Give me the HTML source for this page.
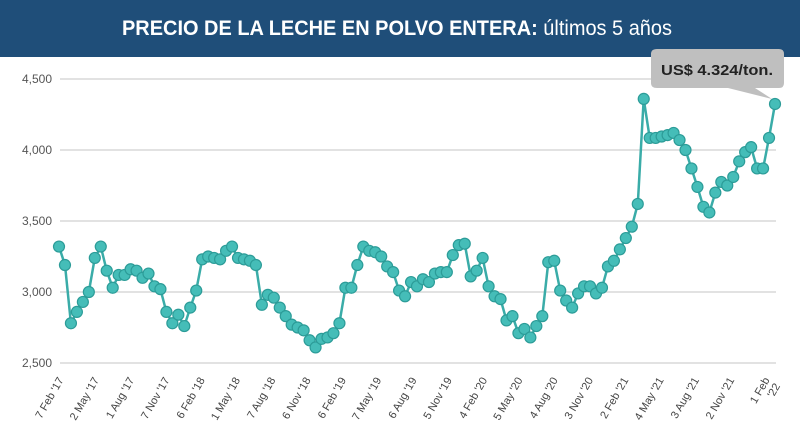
<!DOCTYPE html>
<html><head><meta charset="utf-8"><style>
html,body{margin:0;padding:0;background:#fff;}
svg{display:block;font-family:"Liberation Sans",sans-serif;}
</style></head><body>
<svg id="chart" width="800" height="440" viewBox="0 0 800 440">
<rect x="0" y="0" width="800" height="57" fill="#1f4e79"/>
<text x="397" y="35" text-anchor="middle" fill="#fff" font-size="21" textLength="550" lengthAdjust="spacingAndGlyphs"><tspan font-weight="bold">PRECIO DE LA LECHE EN POLVO ENTERA:</tspan> últimos 5 años</text>
<g id="grid"></g><g id="xlabels"></g><g id="series"></g>
<g>
<path d="M657,49 H779 Q784,49 784,54 V83 Q784,88 779,88 H755 L772,99 L728,88 H657 Q651,88 651,83 V54 Q651,49 657,49 Z" fill="#bfbfbf"/>
<text x="717" y="75" text-anchor="middle" font-size="15" font-weight="bold" fill="#222" textLength="112" lengthAdjust="spacingAndGlyphs">US$ 4.324/ton.</text>
</g>
</svg>
<script>
const yTicks=[2500,3000,3500,4000,4500];
const yTickLabels=["2,500","3,000","3,500","4,000","4,500"];
const dateLabels=["7 Feb '17","2 May '17","1 Aug '17","7 Nov '17","6 Feb '18","1 May '18","7 Aug '18","6 Nov '18","6 Feb '19","7 May '19","6 Aug '19","5 Nov '19","4 Feb '20","5 May '20","4 Aug '20","3 Nov '20","2 Feb '21","4 May '21","3 Aug '21","2 Nov '21","1 Feb|'22"];
const prices=[3320,3190,2780,2860,2930,3000,3240,3320,3150,3030,3120,3120,3160,3150,3100,3130,3040,3020,2860,2780,2840,2760,2890,3010,3230,3250,3240,3230,3290,3320,3240,3230,3220,3190,2910,2980,2960,2890,2830,2770,2750,2730,2660,2610,2670,2680,2710,2780,3030,3030,3190,3320,3290,3280,3250,3180,3140,3010,2970,3070,3040,3090,3070,3130,3140,3140,3260,3330,3340,3110,3150,3240,3040,2970,2950,2800,2830,2710,2740,2680,2760,2830,3210,3220,3010,2940,2890,2990,3040,3040,2990,3030,3180,3220,3300,3380,3460,3620,4360,4085,4085,4095,4105,4120,4070,4000,3870,3740,3600,3560,3700,3775,3750,3810,3920,3985,4020,3870,3870,4085,4324];
const NS="http://www.w3.org/2000/svg";
const X0=60,X1=776,Y0=363,Y1=79;
function yScale(v){return Y0-(v-2500)/2000*(Y0-Y1);}
function xScale(i){return 59+i*(775-59)/(prices.length-1);}
function mk(tag,attrs,parent){const e=document.createElementNS(NS,tag);for(const k in attrs)e.setAttribute(k,attrs[k]);parent.appendChild(e);return e;}
const grid=document.getElementById('grid');
yTicks.forEach((t,i)=>{
  const l=mk('line',{x1:X0,x2:X1,y1:yScale(t),y2:yScale(t),stroke:'#d9d9d9','stroke-width':1.5},grid);
  
  
  const tx=mk('text',{x:52,y:yScale(t)+4,'text-anchor':'end','font-size':12,fill:'#555'},grid);
  tx.textContent=yTickLabels[i];
  
  
});
const xl=document.getElementById('xlabels');
dateLabels.forEach((d,i)=>{
  const x=64+i*(770-64)/(dateLabels.length-1);
  const g=mk('g',{transform:`translate(${x},380) rotate(-60)`},xl);
  
  
  const parts=d.split('|');
  const t=mk('text',{x:0,y:0,'text-anchor':'end','font-size':11,fill:'#444'},g);
  t.textContent=parts[0];
  if(parts[1]){const t2=mk('text',{x:0,y:12,'text-anchor':'end','font-size':11,fill:'#444'},g);t2.textContent=parts[1];}
});
const s=document.getElementById('series');
const pts=prices.map((v,i)=>xScale(i).toFixed(1)+','+yScale(v).toFixed(1)).join(' ');
const pl=mk('polyline',{points:pts,fill:'none',stroke:'#3aaca8','stroke-width':2.5},s);


prices.forEach((v,i)=>{
  const c=mk('circle',{cx:xScale(i),cy:yScale(v),r:5.5,fill:'#45bdb8',stroke:'#2c9c98','stroke-width':1.2},s);
  
  
});
</script>
</body></html>
